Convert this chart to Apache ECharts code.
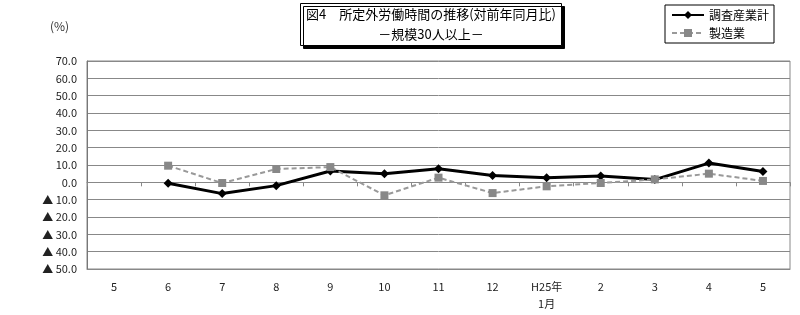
<!DOCTYPE html>
<html><head><meta charset="utf-8">
<script src="https://cdn.jsdelivr.net/npm/echarts@6/dist/echarts.min.js"></script>
<style>html,body{margin:0;padding:0;background:#fff}#c{width:800px;height:315px}</style>
</head><body><div id="c"></div>
<script>
const categories = ['5','6','7','8','9','10','11','12','H25年\n1月','2','3','4','5'];
const allIndustries = [null,-0.5,-6.5,-1.9,6.5,5.0,7.8,4.0,2.7,3.6,1.6,11.1,6.3];
const manufacturing = [null,9.6,-0.4,7.7,8.8,-7.5,2.7,-6.2,-2.3,-0.4,1.7,5.0,0.8];
const yMin = -50, yMax = 70, yStep = 10;
const FONT = '"Noto Sans CJK JP", "Noto Sans", sans-serif';

const chart = echarts.init(document.getElementById('c'), null, {renderer:'canvas'});
chart.setOption({
  animation:false,
  textStyle:{fontFamily:FONT},
  title:{
    text:'図4　所定外労働時間の推移(対前年同月比)',
    subtext:'－規模30人以上－',
    left:425, top:3, textAlign:'center',
    itemGap:3,
    padding:[3,6,3,6],
    borderColor:'#000', borderWidth:1,
    backgroundColor:'#fff',
    shadowColor:'#000', shadowOffsetX:3, shadowOffsetY:3, shadowBlur:0,
    textStyle:{fontSize:13, fontWeight:'normal', color:'#000', fontFamily:FONT, lineHeight:17},
    subtextStyle:{fontSize:13, color:'#000', fontFamily:FONT, lineHeight:17}
  },
  legend:{
    orient:'vertical', left:665, top:5,
    borderColor:'#000', borderWidth:1, padding:[4,5,4,6],
    itemWidth:32, itemHeight:10, itemGap:6,
    textStyle:{fontSize:12, color:'#000', fontFamily:FONT},
    data:['調査産業計','製造業']
  },
  graphic:[{type:'text', left:50, top:20, style:{text:'(%)', fontSize:12, fill:'#333', fontFamily:FONT}}],
  grid:{left:87, right:10, top:61, bottom:46, show:true, borderColor:'#888', borderWidth:1},
  xAxis:[{
    type:'category', data:categories, boundaryGap:true, position:'bottom',
    axisLine:{onZero:false, lineStyle:{color:'#888'}},
    axisTick:{show:false},
    axisLabel:{fontSize:11, color:'#222', margin:9, lineHeight:17, interval:0}
  },{
    type:'category', data:categories, boundaryGap:true,
    axisLine:{onZero:true, lineStyle:{color:'#888'}},
    axisTick:{show:true, inside:true, length:4, lineStyle:{color:'#888'}},
    axisLabel:{show:false}
  }],
  yAxis:{
    type:'value', min:yMin, max:yMax, interval:yStep,
    axisLine:{show:true, lineStyle:{color:'#777'}},
    axisTick:{show:false},
    splitLine:{lineStyle:{color:'#888', width:1}},
    axisLabel:{fontSize:11, color:'#222', margin:10,
      formatter:v=> v<0 ? '▲ '+(-v).toFixed(1) : v.toFixed(1)}
  },
  series:[{
    name:'調査産業計', type:'line', data:allIndustries, xAxisIndex:0,
    symbol:'diamond', symbolSize:9, color:'#000',
    lineStyle:{color:'#000', width:3},
    itemStyle:{color:'#000'}
  },{
    name:'製造業', type:'line', data:manufacturing, xAxisIndex:0,
    symbol:'rect', symbolSize:8, color:'#888',
    lineStyle:{color:'#999', width:2, type:[5,3]},
    itemStyle:{color:'#888'}
  }]
});
</script></body></html>
